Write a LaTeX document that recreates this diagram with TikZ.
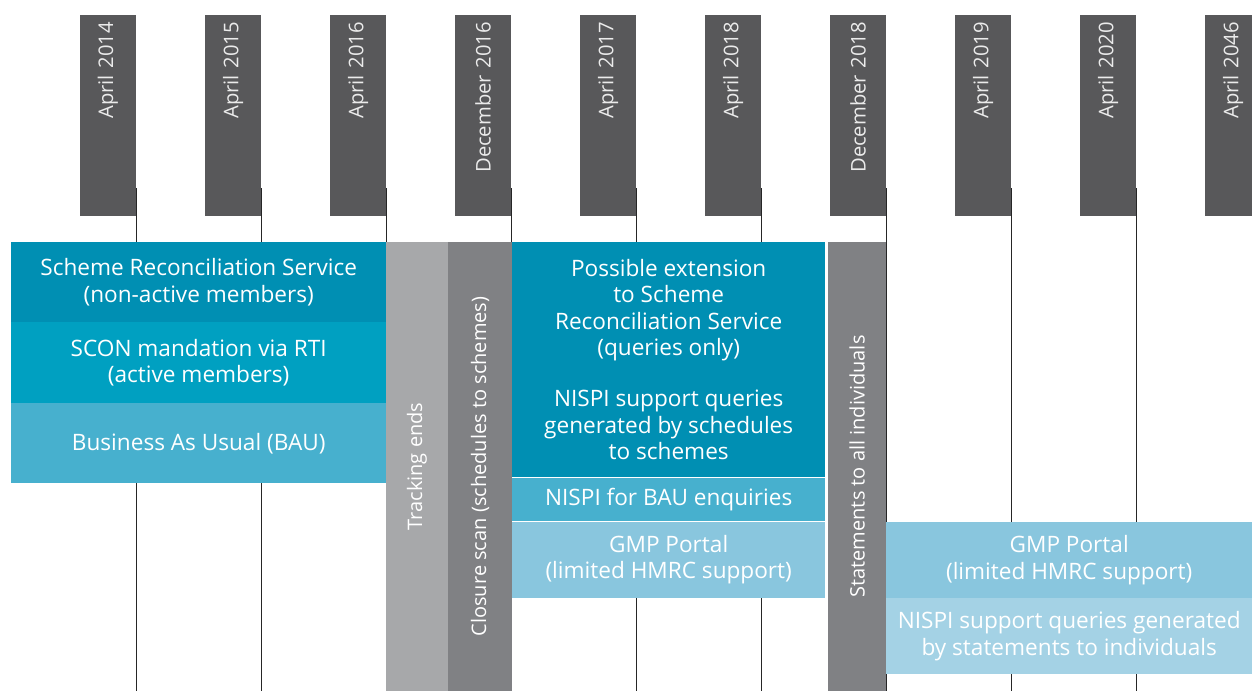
\documentclass[tikz,border=0pt]{standalone}
\usepackage{fontspec}
\setmainfont{Open Sans}
\definecolor{hdrgray}{HTML}{58585A}
\definecolor{tealA}{HTML}{008FB3}
\definecolor{tealB}{HTML}{00A0C1}
\definecolor{tealC}{HTML}{47B0CE}
\definecolor{tealD}{HTML}{89C6DE}
\definecolor{tealE}{HTML}{A4D2E5}
\definecolor{grayL}{HTML}{A7A8AA}
\definecolor{grayD}{HTML}{808184}
\begin{document}
\begin{tikzpicture}[x=1pt,y=-1pt,
  hdr/.style={rotate=90, fill=hdrgray, minimum width=201pt, minimum height=56pt,
    inner xsep=7pt, inner ysep=0pt, text width=187pt, align=right, text=white!92!black,
    font=\fontsize{20.2}{24}\selectfont},
  tl/.style={draw=black!85, line width=0.8pt},
  blk/.style={anchor=north west, inner sep=0pt, align=center, text=white,
    font=\fontsize{22.6}{26.5}\selectfont},
  bar/.style={rotate=90, inner sep=0pt, minimum width=449pt, text=white,
    font=\fontsize{20}{24}\selectfont},
  sep/.style={draw=white, line width=0.9pt}]
\useasboundingbox (0,0) rectangle (1252,691);
\clip (0,0) rectangle (1252,691);
\fill[white] (0,0) rectangle (1252,691);
% header boxes
\node[hdr] (h1) at (108,115.5) {April 2014};
\node[hdr] (h2) at (233,115.5) {April 2015};
\node[hdr] (h3) at (358,115.5) {April 2016};
\node[hdr] (h4) at (483,115.5) {December 2016};
\node[hdr] (h5) at (608,115.5) {April 2017};
\node[hdr] (h6) at (733,115.5) {April 2018};
\node[hdr] (h7) at (858,115.5) {December 2018};
\node[hdr] (h8) at (983,115.5) {April 2019};
\node[hdr] (h9) at (1108,115.5) {April 2020};
\node[hdr] (h10) at (1233,115.5) {April 2046};
% timeline lines
\foreach \x in {136,261,386,511,636,761,886,1011,1136,1261}
  \draw[tl] (\x,188) -- (\x,691);
% left blocks
\node[blk, fill=tealA, minimum width=375pt, minimum height=80pt] (srs) at (11,242)
  {Scheme Reconciliation Service\\(non-active members)};
\node[blk, fill=tealB, minimum width=375pt, minimum height=81pt] (scon) at (11,322)
  {SCON mandation via RTI\\(active members)};
\node[blk, fill=tealC, minimum width=375pt, minimum height=80pt] (bau) at (11,403)
  {Business As Usual (BAU)};
% gray bars
\node[bar, fill=grayL, minimum height=62pt] (track) at (417,466.5) {Tracking ends};
\node[bar, fill=grayD, minimum height=64pt] (close) at (480,466.5) {Closure scan (schedules to schemes)};
\node[bar, fill=grayD, minimum height=58pt] (stmt) at (857,466.5) {Statements to all individuals};
% middle blocks
\node[blk, fill=tealA, minimum width=313pt, minimum height=235pt] (ext) at (512,242)
  {Possible extension\\to Scheme\\Reconciliation Service\\(queries only)\\[24.5pt]NISPI support queries\\generated by schedules\\to schemes};
\node[blk, fill=tealC, minimum width=313pt, minimum height=44pt] (nbau) at (512,477)
  {NISPI for BAU enquiries};
\node[blk, fill=tealD, minimum width=313pt, minimum height=77pt] (gmp1) at (512,521)
  {GMP Portal\\(limited HMRC support)};
\draw[sep] (ext.south west) -- (ext.south east);
\draw[sep] (nbau.south west) -- (nbau.south east);
% right blocks
\node[blk, fill=tealD, minimum width=366pt, minimum height=76pt] (gmp2) at (886,522)
  {GMP Portal\\(limited HMRC support)};
\node[blk, fill=tealE, minimum width=366pt, minimum height=76pt] (nstat) at (886,598)
  {NISPI support queries generated\\by statements to individuals};
\end{tikzpicture}
\end{document}
